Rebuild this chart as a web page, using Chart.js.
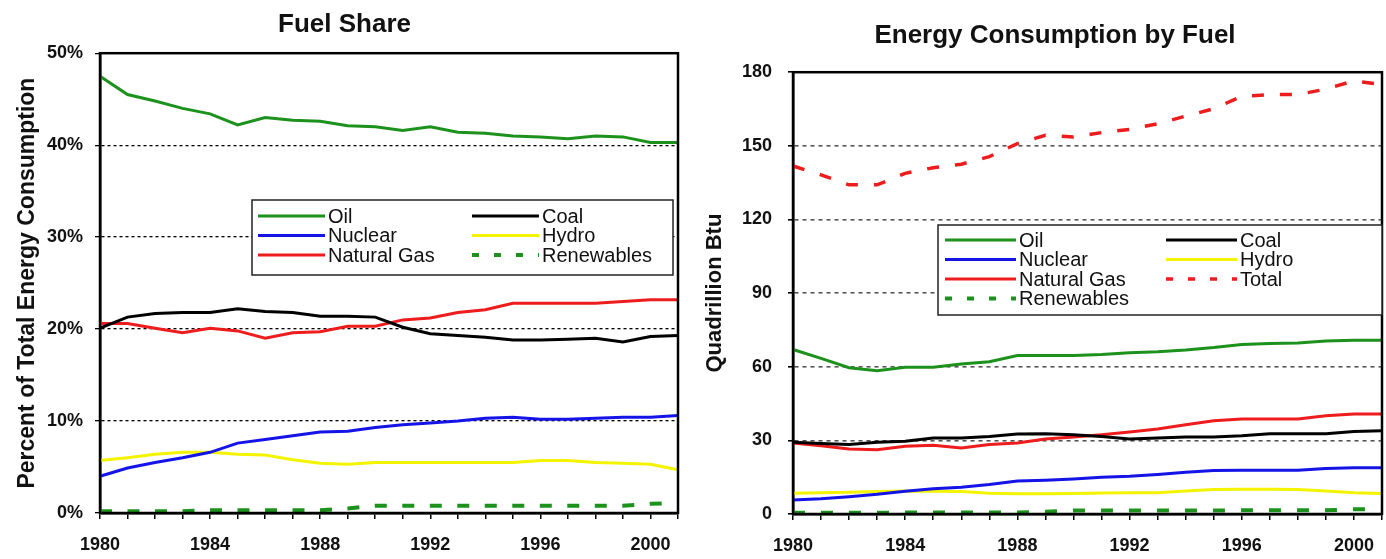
<!DOCTYPE html>
<html>
<head>
<meta charset="utf-8">
<title>Fuel Share / Energy Consumption by Fuel</title>
<script src="https://cdn.jsdelivr.net/npm/chart.js@4.4.1/dist/chart.umd.min.js"></script>
<style>
  html, body { margin: 0; padding: 0; background: #fff; overflow: hidden; }
  #wrap { position: relative; width: 1386px; height: 559px; overflow: hidden; }
  #shareChart { position: absolute; left: 0; top: 0; }
  #energyChart { position: absolute; left: 693px; top: 0; }
</style>
</head>
<body>
<div id="wrap">
  <canvas id="shareChart" width="693" height="559"></canvas>
  <canvas id="energyChart" width="704" height="559"></canvas>
</div>
<script>
// years on the x axis (only every 4th one gets a label)
const years = ['1980', '1981', '1982', '1983', '1984', '1985', '1986', '1987', '1988', '1989', '1990',
               '1991', '1992', '1993', '1994', '1995', '1996', '1997', '1998', '1999', '2000', '2001'];

// left chart: share of total energy consumption (%)
const oilShare     = [47.5, 45.5, 44.8, 44.0, 43.4, 42.2, 43.0, 42.7, 42.6, 42.1, 42.0, 41.6, 42.0, 41.4, 41.3, 41.0, 40.9, 40.7, 41.0, 40.9, 40.3, 40.3];
const coalShare    = [20.1, 21.3, 21.7, 21.8, 21.8, 22.2, 21.9, 21.8, 21.4, 21.4, 21.3, 20.2, 19.5, 19.3, 19.1, 18.8, 18.8, 18.9, 19.0, 18.6, 19.2, 19.3];
const nuclearShare = [4.0, 4.9, 5.5, 6.0, 6.6, 7.6, 8.0, 8.4, 8.8, 8.9, 9.3, 9.6, 9.8, 10.0, 10.3, 10.4, 10.2, 10.2, 10.3, 10.4, 10.4, 10.6];
const hydroShare   = [5.7, 6.0, 6.4, 6.6, 6.6, 6.4, 6.3, 5.8, 5.4, 5.3, 5.5, 5.5, 5.5, 5.5, 5.5, 5.5, 5.7, 5.7, 5.5, 5.4, 5.3, 4.7];
const gasShare     = [20.6, 20.6, 20.1, 19.6, 20.1, 19.8, 19.0, 19.6, 19.7, 20.3, 20.3, 21.0, 21.2, 21.8, 22.1, 22.8, 22.8, 22.8, 22.8, 23.0, 23.2, 23.2];
const renewShare   = [0.2, 0.2, 0.2, 0.2, 0.3, 0.3, 0.3, 0.3, 0.3, 0.5, 0.8, 0.8, 0.8, 0.8, 0.8, 0.8, 0.8, 0.8, 0.8, 0.8, 1.0, 1.1];

// right chart: consumption in quadrillion Btu
const oilQ     = [67.0, 63.4, 59.6, 58.4, 59.8, 59.8, 61.1, 62.0, 64.6, 64.6, 64.6, 65.0, 65.7, 66.1, 66.8, 67.8, 69.1, 69.5, 69.7, 70.5, 70.8, 70.8];
const coalQ    = [29.2, 28.7, 28.3, 29.2, 29.6, 31.0, 31.0, 31.6, 32.6, 32.7, 32.3, 31.6, 30.6, 31.0, 31.4, 31.4, 31.9, 32.7, 32.7, 32.7, 33.6, 33.9];
const nuclearQ = [5.7, 6.2, 7.0, 8.0, 9.3, 10.3, 10.9, 12.0, 13.4, 13.8, 14.3, 15.0, 15.4, 16.1, 17.0, 17.7, 17.8, 17.8, 17.8, 18.5, 18.8, 18.8];
const hydroQ   = [8.5, 8.7, 8.9, 9.2, 9.4, 9.3, 9.2, 8.5, 8.3, 8.2, 8.4, 8.6, 8.7, 8.7, 9.4, 10.0, 10.1, 10.1, 10.0, 9.4, 8.7, 8.4];
const gasQ     = [28.9, 27.8, 26.5, 26.2, 27.6, 28.0, 26.9, 28.3, 28.9, 30.6, 31.4, 32.3, 33.4, 34.6, 36.4, 38.0, 38.7, 38.7, 38.7, 40.0, 40.7, 40.7];
const totalQ   = [141.8, 138.2, 134.1, 134.1, 138.8, 141.1, 142.5, 145.6, 150.9, 154.3, 153.6, 155.4, 156.7, 159.0, 162.1, 165.1, 170.2, 170.9, 170.9, 173.1, 176.5, 174.9];
const renewQ   = [0.5, 0.5, 0.5, 0.5, 0.6, 0.6, 0.6, 0.6, 0.6, 0.9, 1.4, 1.4, 1.4, 1.4, 1.4, 1.4, 1.5, 1.5, 1.5, 1.5, 1.9, 1.9];

const FONT = "Arial, 'Liberation Sans', sans-serif";
const GREEN = '#1c921c';
const BLUE = '#1414e8';
const RED = '#ee1c1c';
const YELLOW = '#f4f400';

function series(label, data, color, dash, width) {
    return {
        label: label,
        data: data,
        borderColor: color,
        backgroundColor: color,
        borderWidth: width || 3,
        borderDash: dash || [],
        pointRadius: 0,
        tension: 0,
        fill: false
    };
}

// black box round the plot area
const framePlugin = {
    id: 'frame',
    afterDatasetsDraw(chart) {
        const { ctx, chartArea: a } = chart;
        ctx.save();
        ctx.strokeStyle = '#000';
        ctx.lineWidth = 2.5;
        ctx.strokeRect(a.left, a.top, a.right - a.left, a.bottom - a.top);
        ctx.restore();
    }
};

// two-column legend in a white box, drawn inside the plot
const boxLegend = {
    id: 'boxLegend',
    afterDatasetsDraw(chart, args, opts) {
        const ctx = chart.ctx;
        ctx.save();
        ctx.fillStyle = '#fff';
        ctx.fillRect(opts.x, opts.y, opts.w, opts.h);
        ctx.strokeStyle = '#222';
        ctx.lineWidth = 1.5;
        ctx.strokeRect(opts.x, opts.y, opts.w, opts.h);
        ctx.font = '20px ' + FONT;
        ctx.textBaseline = 'middle';
        ctx.textAlign = 'left';
        chart.data.datasets.forEach((ds, i) => {
            const lx = opts.x + opts.colX[i % 2];
            const ly = opts.y + opts.rowY0 + Math.floor(i / 2) * opts.rowGap;
            ctx.strokeStyle = ds.borderColor;
            ctx.lineWidth = ds.borderWidth;
            ctx.setLineDash(ds.legendDash || ds.borderDash || []);
            ctx.beginPath();
            ctx.moveTo(lx, ly);
            ctx.lineTo(lx + opts.sample, ly);
            ctx.stroke();
            ctx.setLineDash([]);
            ctx.fillStyle = '#111';
            ctx.fillText(ds.label, lx + opts.sample + 3, ly + 1);
        });
        ctx.restore();
    }
};

function makeOptions(cfg) {
    return {
        responsive: false,
        animation: false,
        layout: { padding: { left: cfg.padLeft, right: cfg.padRight, top: 0, bottom: 0 } },
        plugins: {
            legend: { display: false },
            tooltip: { enabled: false },
            title: {
                display: true,
                text: cfg.title,
                color: '#111',
                font: { family: FONT, size: 26, weight: 'bold' },
                padding: { top: cfg.titleTop, bottom: cfg.titleBottom }
            },
            boxLegend: cfg.legend
        },
        scales: {
            x: {
                type: 'category',
                offset: false,
                afterFit: (scale) => { scale.height = cfg.xHeight; },
                grid: {
                    drawOnChartArea: false,
                    drawTicks: true,
                    tickLength: 6,
                    color: '#000',
                    lineWidth: 1.5
                },
                border: { display: true, color: '#000', width: 2.5 },
                ticks: {
                    autoSkip: false,
                    maxRotation: 0,
                    padding: 15,
                    color: '#111',
                    font: { family: FONT, size: 18, weight: 'bold' },
                    callback: function (value) {
                        const y = this.getLabelForValue(value);
                        return Number(y) % 4 === 0 ? y : '';
                    }
                }
            },
            y: {
                min: 0,
                max: cfg.yMax,
                afterFit: (scale) => { scale.width = cfg.yWidth; },
                grid: {
                    drawOnChartArea: true,
                    drawTicks: true,
                    tickLength: 5,
                    lineWidth: cfg.gridWidth,
                    color: (c) => (c.tick && (c.tick.value === 0 || c.tick.value === cfg.yMax)) ? 'rgba(0,0,0,0)' : cfg.gridColor,
                    tickColor: '#000'
                },
                border: { display: true, color: '#000', width: 2.5, dash: cfg.gridDash },
                ticks: {
                    stepSize: cfg.yStep,
                    padding: cfg.yTickPad,
                    color: '#111',
                    font: { family: FONT, size: 18, weight: 'bold' },
                    callback: cfg.yFormat
                },
                title: {
                    display: true,
                    text: cfg.yTitle,
                    color: '#111',
                    font: { family: FONT, size: cfg.yTitleSize, weight: 'bold' },
                    padding: { top: cfg.yTitlePad, bottom: 0 }
                }
            }
        }
    };
}

new Chart(document.getElementById('shareChart'), {
    type: 'line',
    data: {
        labels: years,
        datasets: [
            series('Oil', oilShare, GREEN),
            series('Coal', coalShare, '#000'),
            series('Nuclear', nuclearShare, BLUE),
            series('Hydro', hydroShare, YELLOW),
            series('Natural Gas', gasShare, RED),
            Object.assign(series('Renewables', renewShare, GREEN, [12, 15.5], 4), { legendDash: [7, 15] })
        ]
    },
    options: makeOptions({
        title: 'Fuel Share',
        titleTop: 9, titleBottom: 13,
        padLeft: 11, padRight: 15,
        yWidth: 89, xHeight: 46,
        yMax: 50, yStep: 10, yTickPad: 12,
        yFormat: (v) => v + '%',
        yTitle: 'Percent of Total Energy Consumption', yTitleSize: 23, yTitlePad: 3,
        gridColor: '#000', gridWidth: 1.3, gridDash: [3, 3],
        legend: { x: 252, y: 200, w: 421, h: 75, colX: [6, 220], sample: 67, rowY0: 16, rowGap: 19.5 }
    }),
    plugins: [framePlugin, boxLegend]
});

new Chart(document.getElementById('energyChart'), {
    type: 'line',
    data: {
        labels: years,
        datasets: [
            series('Oil', oilQ, GREEN),
            series('Coal', coalQ, '#000'),
            series('Nuclear', nuclearQ, BLUE),
            series('Hydro', hydroQ, YELLOW),
            series('Natural Gas', gasQ, RED),
            Object.assign(series('Total', totalQ, RED, [12, 16], 3.5), { legendDash: [7, 15] }),
            Object.assign(series('Renewables', renewQ, GREEN, [12, 16], 4), { legendDash: [7, 15] })
        ]
    },
    options: makeOptions({
        title: 'Energy Consumption by Fuel',
        titleTop: 20, titleBottom: 21,
        padLeft: 35, padRight: 15,
        yWidth: 65, xHeight: 45,
        yMax: 180, yStep: 30, yTickPad: 16,
        yFormat: (v) => v,
        yTitle: 'Quadrillion Btu', yTitleSize: 22, yTitlePad: -26,
        gridColor: '#555', gridWidth: 1.6, gridDash: [4, 4],
        legend: { x: 245, y: 225, w: 444, h: 90, colX: [7, 228], sample: 71, rowY0: 15, rowGap: 19.5 }
    }),
    plugins: [framePlugin, boxLegend]
});
</script>
</body>
</html>
